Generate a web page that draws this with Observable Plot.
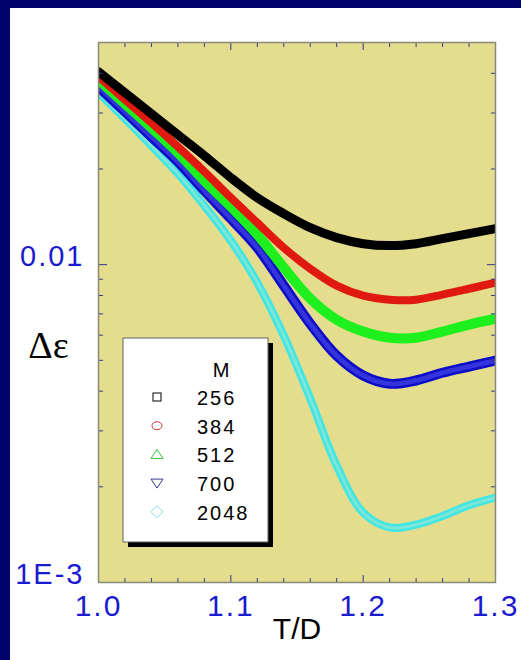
<!DOCTYPE html>
<html><head><meta charset="utf-8">
<script src="https://cdn.jsdelivr.net/npm/d3@7"></script>
<script src="https://cdn.jsdelivr.net/npm/@observablehq/plot@0.6"></script>
<style>
html,body{margin:0;padding:0;background:#03036e;width:521px;height:660px;overflow:hidden;}
#panel{position:absolute;left:10px;top:8px;width:511px;height:652px;background:#ffffff;}
#panel svg{display:block;}
</style></head><body><div id="panel"></div>
<script>
// ---- data ----
const T = [1.00,1.02,1.04,1.06,1.08,1.10,1.12,1.14,1.16,1.18,1.20,1.22,1.24,1.26,1.28,1.30];
const m256  = [0.04045,0.03475,0.02985,0.02563,0.02203,0.01878,0.01624,0.01447,0.01307,0.01216,0.01164,0.01148,0.01164,0.01207,0.01252,0.01298];
const m384  = [0.03902,0.03304,0.02796,0.02350,0.01962,0.01624,0.01355,0.01131,0.00971,0.00859,0.00799,0.00776,0.00776,0.00805,0.00840,0.00878];
const m512  = [0.03818,0.03209,0.02696,0.02251,0.01837,0.01522,0.01243,0.00979,0.00782,0.00671,0.00616,0.00589,0.00589,0.00616,0.00648,0.00676];
const m700  = [0.03628,0.03028,0.02526,0.02108,0.01709,0.01395,0.01131,0.00859,0.00652,0.00517,0.00448,0.00422,0.00432,0.00457,0.00478,0.00499];
const m2048 = [0.03475,0.02877,0.02367,0.01933,0.01533,0.01190,0.00878,0.00598,0.00379,0.00233,0.00166,0.00149,0.00152,0.00162,0.00175,0.00185];
const seriesNames = ["256","384","512","700","2048"];
const seriesValues = [m256, m384, m512, m700, m2048];
const seriesColors = ["#000000","#e01a10","#1ef01e","#0c0cc8","#3ee6e6"];
const seriesTexture = [null, null, null, "#4a4ae6", "#9fe6cf"];
const legendSymbolColors = ["#000000","#c83838","#38c038","#34348e","#86dede"];
const seriesWidths = [9, 8, 10, 10, 8];
const xMajorTicks = [1.0,1.1,1.2,1.3];
const xMinorTicks = [1.02,1.04,1.06,1.08,1.12,1.14,1.16,1.18,1.22,1.24,1.26,1.28];
const yMajorTicks = [0.001,0.01];
const yMinorTicks = [0.002,0.003,0.004,0.005,0.006,0.007,0.008,0.009,0.02,0.03,0.04,0.05];
const yTickLabels = ["1E-3","0.01"];
const xLabel = "T/D", yLabel = "Δε", legendTitle = "M";

// ---- build ----
const rows = seriesNames.map((name, i) => T.map((t, j) => ({T: t, v: seriesValues[i][j], M: name})));
const tickColor = "#34348a", labelBlue = "#1a1ad0", sans = "'Liberation Sans', Arial, sans-serif";

const lineMarks = [];
for (let i = seriesNames.length - 1; i >= 0; i--) {
  lineMarks.push(Plot.line(rows[i], {x: "T", y: "v", stroke: seriesColors[i], strokeWidth: seriesWidths[i], curve: "catmull-rom", clip: true}));
  if (seriesTexture[i]) {
    lineMarks.push(Plot.line(rows[i], {x: "T", y: "v", stroke: seriesTexture[i], strokeWidth: i === 4 ? 3 : 5, strokeDasharray: i === 4 ? "3 2" : "1 2", strokeOpacity: 0.65, curve: "catmull-rom", clip: true}));
  }
}

const chart = Plot.plot({
  width: 511, height: 652,
  marginLeft: 88, marginRight: 26, marginTop: 34, marginBottom: 78,
  style: {background: "transparent", overflow: "visible", fontFamily: sans},
  x: {domain: [1.0, 1.3]},
  y: {type: "log", domain: [0.001, 0.05]},
  marks: [
    Plot.frame({fill: "#e4dd8e", stroke: null}),
    ...lineMarks,
    Plot.axisX(xMinorTicks, {anchor: "bottom", tickSize: 4, dy: -4, stroke: tickColor, fill: "none", label: null}),
    Plot.axisX(xMajorTicks, {anchor: "bottom", tickSize: 7, dy: -7, stroke: tickColor, fill: "none", label: null}),
    Plot.axisX(xMinorTicks, {anchor: "top", tickSize: 4, dy: 4, stroke: tickColor, fill: "none", label: null}),
    Plot.axisX(xMajorTicks, {anchor: "top", tickSize: 7, dy: 7, stroke: tickColor, fill: "none", label: null}),
    Plot.axisY(yMinorTicks, {anchor: "left", tickSize: 5, dx: 5, stroke: tickColor, fill: "none", label: null}),
    Plot.axisY(yMajorTicks, {anchor: "left", tickSize: 9, dx: 9, stroke: tickColor, fill: "none", label: null}),
    Plot.axisY(yMinorTicks, {anchor: "right", tickSize: 5, dx: -5, stroke: tickColor, fill: "none", label: null}),
    Plot.axisY(yMajorTicks, {anchor: "right", tickSize: 9, dx: -9, stroke: tickColor, fill: "none", label: null}),
    Plot.axisX(xMajorTicks, {anchor: "bottom", tickSize: 0, tickPadding: 12, stroke: "none", fill: labelBlue, fontSize: 30, fontFamily: sans, tickFormat: d3.format(".1f"), label: null}),
    Plot.axisY(yMajorTicks, {anchor: "left", tickSize: 0, tickPadding: 14, dy: -8, stroke: "none", fill: labelBlue, fontSize: 29, fontFamily: sans, tickFormat: d => yTickLabels[yMajorTicks.indexOf(d)], label: null}),
    Plot.text([yLabel], {text: d => d, frameAnchor: "left", textAnchor: "middle", dx: -50, dy: 33, fontSize: 38, fontFamily: "'Liberation Serif', 'Times New Roman', serif", fill: "black"}),
    Plot.text([xLabel], {text: d => d, frameAnchor: "bottom", textAnchor: "middle", dy: 56, fontSize: 30, fontFamily: sans, fill: "black"}),
    Plot.frame({stroke: "#8a8a7a", strokeWidth: 1.5})
  ]
});

const svg = d3.select(chart);
svg.selectAll("g[aria-label='x-axis tick label'] text").style("font-size", "30px").style("letter-spacing", "2px");
svg.selectAll("g[aria-label='y-axis tick label'] text").style("font-size", "29px").style("letter-spacing", "2px");

// legend
const lg = svg.append("g").attr("font-family", sans).attr("text-anchor", "start");
lg.append("rect").attr("x", 118).attr("y", 335).attr("width", 145).attr("height", 204).attr("fill", "#000");
lg.append("rect").attr("x", 113).attr("y", 330).attr("width", 145).attr("height", 204).attr("fill", "#fff").attr("stroke", "#606060").attr("stroke-width", 1);
lg.append("text").attr("x", 211).attr("y", 369).attr("text-anchor", "middle").style("font-size", "20px").attr("fill", "#000").text(legendTitle);
const symX = 147, rowY0 = 389, rowStep = 28.7;
seriesNames.forEach((name, i) => {
  const cy = rowY0 + i * rowStep;
  const c = legendSymbolColors[i];
  const g = lg.append("g").attr("fill", "none").attr("stroke", c).attr("stroke-width", 1);
  if (i === 0) g.append("rect").attr("x", symX - 4).attr("y", cy - 4).attr("width", 8).attr("height", 8);
  if (i === 1) g.append("ellipse").attr("cx", symX).attr("cy", cy).attr("rx", 5).attr("ry", 4);
  if (i === 2) g.append("path").attr("d", `M${symX-6},${cy+4}L${symX},${cy-5}L${symX+6},${cy+4}Z`);
  if (i === 3) g.append("path").attr("d", `M${symX-6},${cy-4}L${symX},${cy+5}L${symX+6},${cy-4}Z`);
  if (i === 4) g.append("path").attr("d", `M${symX},${cy-6}L${symX+6},${cy}L${symX},${cy+6}L${symX-6},${cy}Z`);
  lg.append("text").attr("x", 187).attr("y", cy + 8).attr("text-anchor", "start").style("font-size", "20px").style("letter-spacing", "2px").attr("fill", "#000").text(name);
});

document.getElementById("panel").appendChild(chart);
</script>
</body></html>
